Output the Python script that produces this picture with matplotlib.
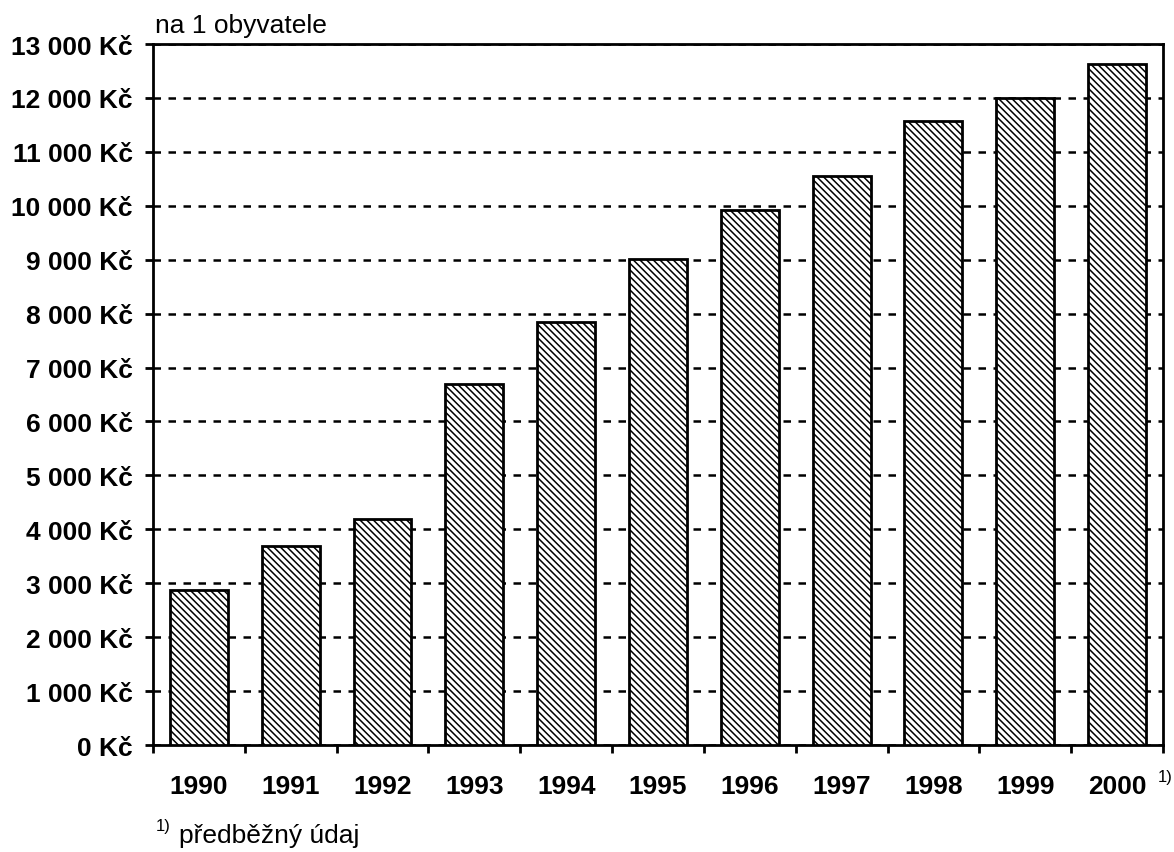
import matplotlib.pyplot as plt

plt.rcParams['font.family'] = ['Liberation Sans', 'DejaVu Sans']
plt.rcParams['hatch.linewidth'] = 1.1
plt.rcParams['hatch.color'] = '#222222'

years = ['1990', '1991', '1992', '1993', '1994', '1995', '1996', '1997', '1998', '1999', '2000']
values = [2880, 3700, 4200, 6700, 7850, 9020, 9930, 10560, 11580, 12000, 12630]

fig = plt.figure(figsize=(11.74, 8.53), dpi=100)
ax = fig.add_axes([0.1303, 0.1254, 0.8603, 0.8218])

x = list(range(len(years)))
ax.bar(x, values, width=0.63, color='white', edgecolor='black', linewidth=2,
       hatch='\\\\\\\\\\', zorder=3)

ax.set_xlim(-0.5, len(years) - 0.5)
ax.set_ylim(0, 13000)
yt = list(range(0, 13001, 1000))
ax.set_yticks(yt)
ax.set_yticklabels([f'{v:,}'.replace(',', ' ') + ' Kč' for v in yt],
                   fontsize=19, fontweight='bold')
ax.yaxis.grid(True, linestyle=(0, (3, 3)), color='black', linewidth=1.8, zorder=1)

ax.set_xticks(x)
ax.set_xticklabels(years, fontsize=19, fontweight='bold')
ax.tick_params(axis='x', length=0, pad=21)
ax.set_xticks([i - 0.5 for i in range(len(years) + 1)], minor=True)
ax.tick_params(axis='x', which='minor', length=6, width=2, direction='out')
ax.tick_params(axis='y', length=6, width=2, direction='out', pad=8.5)

for s in ax.spines.values():
    s.set_linewidth(2)

fig.text(0.132, 0.9613, 'na 1 obyvatele', fontsize=19, va='baseline', ha='left')
fig.text(0.9865, 0.088, '1)', fontsize=12, va='center', ha='left')
fig.text(0.133, 0.026, '1)', fontsize=12, va='baseline', ha='left')
fig.text(0.1525, 0.0117, 'předběžný údaj', fontsize=19, va='baseline', ha='left')

fig.savefig('out.png', dpi=100)
